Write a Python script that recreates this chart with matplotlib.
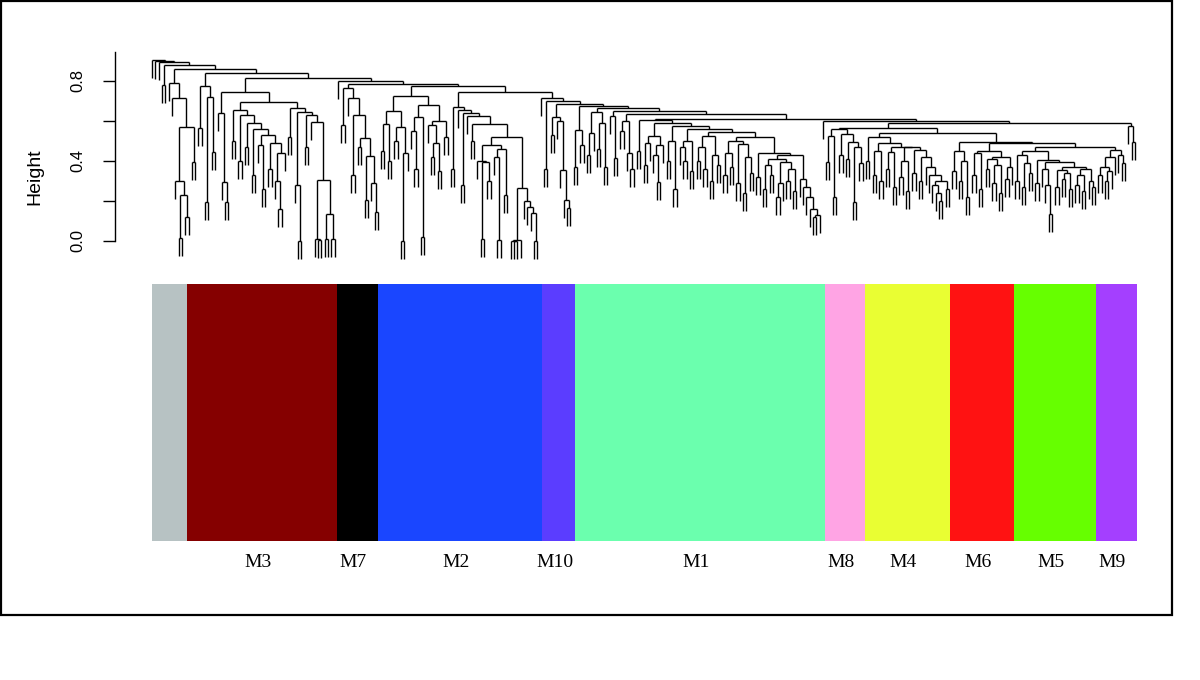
import sys
import numpy as np
import matplotlib
matplotlib.use("Agg")
import matplotlib.pyplot as plt
from matplotlib.collections import LineCollection
from matplotlib.patches import Rectangle

sys.setrecursionlimit(10000)

# ---------------- data ----------------
# Merge height between each pair of adjacent leaves (left to right).
# Each list holds the gap after every leaf of that stretch of the tree.
gaps_top = [0.905, 0.90, 0.895, 0.78, 0.88]
gaps_a = [0.79, 0.715, 0.30, 0.015, 0.23, 0.12, 0.57, 0.395, 0.86]
gaps_b = [0.565, 0.775, 0.195, 0.72, 0.445, 0.84]
gaps_c = [0.64, 0.295, 0.195, 0.745]
gaps_d = [0.50, 0.655, 0.40, 0.63, 0.47, 0.59, 0.33, 0.56, 0.48, 0.26, 0.53,
          0.36, 0.49, 0.30, 0.16, 0.44, 0.695]
gaps_e = [0.52, 0.665, 0.28, 0.0, 0.645, 0.47, 0.63, 0.595, 0.01, 0.005,
          0.305, 0.01, 0.135, 0.01, 0.815]
gaps_single = [0.80]
gaps_m7 = [0.58, 0.765, 0.715, 0.33, 0.63, 0.47, 0.515, 0.205, 0.425, 0.29,
           0.145, 0.785]
gaps_m2a = [0.45, 0.585, 0.40, 0.65, 0.50, 0.57, 0.0, 0.44, 0.725, 0.55, 0.36,
            0.62, 0.02, 0.68, 0.58, 0.42, 0.49, 0.35, 0.60, 0.52, 0.775]
gaps_m2b = [0.36, 0.67, 0.655, 0.28, 0.64, 0.625, 0.50, 0.585,
            0.40, 0.01, 0.395, 0.30, 0.48, 0.42, 0.005, 0.46, 0.23, 0.52,
            0.0, 0.0, 0.005, 0.265, 0.20, 0.17, 0.14, 0.0, 0.745]
gaps_m10 = [0.715, 0.36, 0.70, 0.53, 0.62, 0.60, 0.355, 0.205, 0.165, 0.685]
gaps_m1 = [0.37, 0.555, 0.48, 0.675,
           0.43, 0.54, 0.645, 0.46, 0.59, 0.37, 0.665,
           0.625, 0.415, 0.65,
           0.55, 0.60, 0.44, 0.36, 0.635,
           0.45, 0.605, 0.38, 0.49, 0.525, 0.43, 0.295, 0.48, 0.59, 0.40,
           0.50, 0.26, 0.575, 0.47, 0.40, 0.50, 0.35, 0.56,
           0.40, 0.47, 0.36, 0.525, 0.30, 0.43, 0.38, 0.545, 0.33, 0.44,
           0.37, 0.50, 0.29, 0.485, 0.24, 0.42, 0.34, 0.52,
           0.32, 0.44, 0.26, 0.38, 0.33, 0.41, 0.22, 0.29, 0.395, 0.30,
           0.36, 0.25, 0.43, 0.31, 0.27, 0.22, 0.16, 0.12, 0.13, 0.61]
gaps_m8 = [0.60, 0.395, 0.525, 0.22, 0.56, 0.43, 0.535, 0.41, 0.495, 0.195,
           0.47, 0.39, 0.565]
gaps_m4 = [0.40, 0.52, 0.33, 0.45, 0.30, 0.49, 0.36, 0.445, 0.27, 0.47, 0.32,
           0.40, 0.25, 0.47, 0.34, 0.455, 0.30, 0.42, 0.37, 0.33, 0.28, 0.24,
           0.20, 0.30, 0.26, 0.54]
gaps_m6 = [0.35, 0.45, 0.30, 0.40, 0.22, 0.495, 0.33, 0.44, 0.26, 0.45, 0.36,
           0.41, 0.29, 0.38, 0.24, 0.42, 0.31, 0.37, 0.49]
gaps_m5 = [0.30, 0.43, 0.27, 0.39, 0.34, 0.45, 0.29, 0.405, 0.36, 0.28, 0.135,
           0.395, 0.27, 0.355, 0.31, 0.34, 0.26, 0.37, 0.28, 0.33, 0.25, 0.36,
           0.30, 0.27, 0.47]
gaps_m9 = [0.33, 0.37, 0.30, 0.35, 0.42, 0.455, 0.43, 0.39, 0.59, 0.575, 0.495]

module_names = ["", "M3", "M7", "M2", "M10", "M1", "M8", "M4", "M6", "M5", "M9"]
module_widths = [35, 150, 41, 164, 33, 250, 40, 85, 64, 82, 41]
module_colors = ["#b7c2c3", "#850000", "#000000", "#1a46ff", "#5b3dff",
                 "#6bffae", "#ffa4e4", "#e9fe33", "#ff1212", "#66ff00",
                 "#a43fff"]

y_ticks = [0.0, 0.2, 0.4, 0.6, 0.8]
y_ticklabels = ["0.0", "", "0.4", "", "0.8"]

# ---------------- build dendrogram ----------------
gaps = np.array(gaps_top + gaps_a + gaps_b + gaps_c + gaps_d + gaps_e +
                gaps_single + gaps_m7 + gaps_m2a + gaps_m2b + gaps_m10 +
                gaps_m1 + gaps_m8 + gaps_m4 + gaps_m6 + gaps_m5 + gaps_m9)
N = len(gaps) + 1
hang = 0.09
segs = []


def build(l, r):
    if l == r:
        return float(l), None
    k = l + int(np.argmax(gaps[l:r]))
    h = gaps[k]
    xl, hl = build(l, k)
    xr, hr = build(k + 1, r)
    bl = hl if hl is not None else h - hang
    br = hr if hr is not None else h - hang
    segs.append([(xl, bl), (xl, h)])
    segs.append([(xr, br), (xr, h)])
    segs.append([(xl, h), (xr, h)])
    return (xl + xr) / 2.0, h


build(0, N - 1)

# ---------------- figure ----------------
W, H = 1200, 680
fig = plt.figure(figsize=(12, 6.8), dpi=100)


def fx(px):
    return px / W


def fy(py):
    return 1 - py / H


# dendrogram axes
ax_l, ax_r, ax_t, ax_b = 115, 1140, 48, 262
ax = fig.add_axes([fx(ax_l), fy(ax_b), fx(ax_r - ax_l), (ax_b - ax_t) / H])
s = (1135 - 152) / (N - 1)
ax.set_xlim(-(152 - ax_l) / s, (N - 1) + (ax_r - 1135) / s)
ax.set_ylim((241 - ax_b) / 200.0, (241 - ax_t) / 200.0)
lc = LineCollection(segs, colors="black", linewidths=1.0)
ax.add_collection(lc)
for sp in ["top", "right", "bottom"]:
    ax.spines[sp].set_visible(False)
ax.spines["left"].set_bounds(0.0, 0.945)
ax.spines["left"].set_linewidth(1.0)
ax.set_xticks([])
ax.set_yticks(y_ticks)
ax.set_yticklabels(y_ticklabels, rotation=90, va="center",
                   family="Liberation Sans", fontsize=12)
ax.tick_params(axis="y", length=9, width=1.0, pad=12)
fig.text(fx(35), fy(177), "Height", rotation=90, ha="center", va="center",
         family="Liberation Sans", fontsize=14)

# module colour bar
bx0, bx1, by0, by1 = 152, 1137, 284, 541
axc = fig.add_axes([fx(bx0), fy(by1), fx(bx1 - bx0), (by1 - by0) / H])
starts = np.concatenate([[0], np.cumsum(module_widths)[:-1]])
axc.bar(starts, 1.0, width=module_widths, align="edge", color=module_colors,
        edgecolor="none")
axc.set_xlim(0, sum(module_widths))
axc.set_ylim(0, 1)
axc.axis("off")
for st, w, name in zip(starts, module_widths, module_names):
    if name:
        axc.text(st + w / 2.0 - 4, -0.082, name, ha="center", va="center",
                 family="Liberation Serif", fontsize=14)

# outer frame
fig.patches.append(Rectangle((fx(1), fy(615)), fx(1171), 614 / H,
                             transform=fig.transFigure, fill=False,
                             edgecolor="black", linewidth=1.6))

fig.savefig("out.png", dpi=100)
